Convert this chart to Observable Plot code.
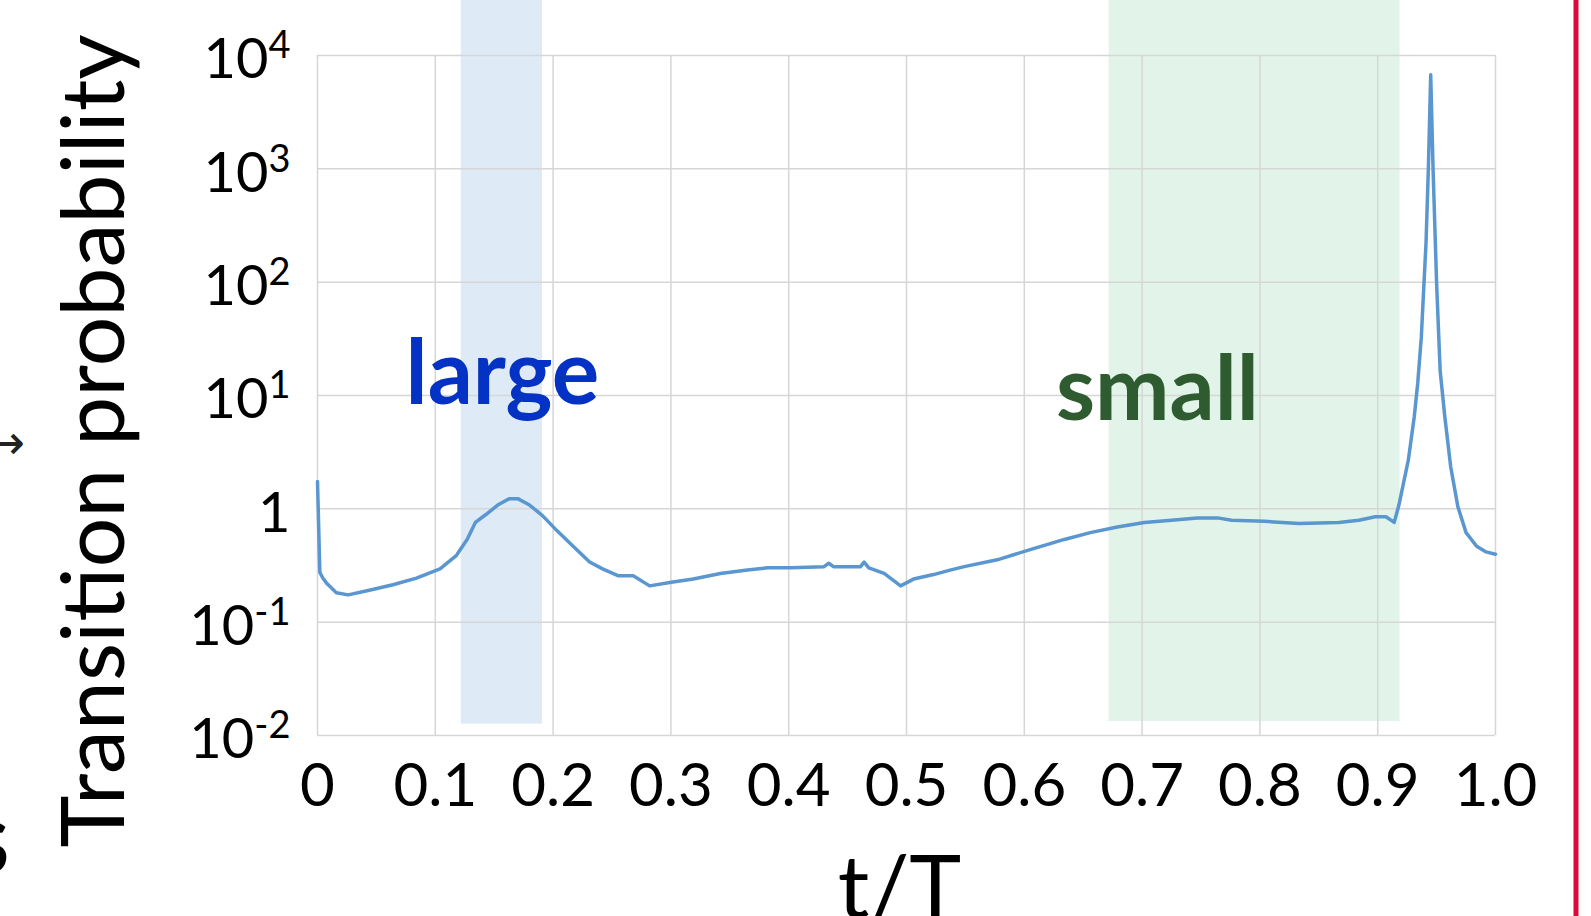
<!DOCTYPE html>
<html>
<head>
<meta charset="utf-8">
<script src="https://cdn.jsdelivr.net/npm/d3@7"></script>
<script src="https://cdn.jsdelivr.net/npm/@observablehq/plot@0.6"></script>
<style>
  html, body { margin: 0; padding: 0; background: #ffffff; overflow: hidden; }
  #wrap { position: relative; width: 1591px; height: 916px; }
  #wrap > svg { position: absolute; left: 0; top: 0; }
  #deco { pointer-events: none; }
</style>
</head>
<body>
<div id="wrap"></div>
<script>
// Transition probability versus normalized time t/T
const tValues = [
  0.000, 0.002, 0.0045, 0.008, 0.016, 0.026, 0.044, 0.064, 0.084, 0.104,
  0.118, 0.127, 0.134, 0.143, 0.153, 0.163, 0.170, 0.180, 0.191, 0.203,
  0.217, 0.231, 0.242, 0.255, 0.268, 0.282, 0.299, 0.319, 0.342, 0.365,
  0.382, 0.402, 0.430, 0.434, 0.438, 0.461, 0.464, 0.468, 0.481, 0.495,
  0.506, 0.523, 0.537, 0.549, 0.577, 0.605, 0.634, 0.656, 0.679, 0.702,
  0.725, 0.747, 0.764, 0.776, 0.804, 0.833, 0.867, 0.884, 0.898, 0.907,
  0.914, 0.918, 0.926, 0.931, 0.934, 0.937, 0.939, 0.941, 0.943, 0.945,
  0.947, 0.950, 0.953, 0.957, 0.962, 0.968, 0.975, 0.984, 0.992, 1.000
];
const probValues = [
  1.74, 0.275, 0.245, 0.219, 0.182, 0.174, 0.191, 0.214, 0.245, 0.295,
  0.389, 0.537, 0.759, 0.891, 1.08, 1.23, 1.23, 1.08, 0.871, 0.646,
  0.468, 0.339, 0.295, 0.257, 0.257, 0.209, 0.224, 0.240, 0.269, 0.288,
  0.302, 0.302, 0.309, 0.331, 0.309, 0.309, 0.339, 0.302, 0.269, 0.209,
  0.240, 0.263, 0.288, 0.309, 0.355, 0.437, 0.537, 0.617, 0.692, 0.759,
  0.794, 0.832, 0.832, 0.794, 0.776, 0.741, 0.759, 0.794, 0.851, 0.851,
  0.759, 1.08, 2.69, 6.46, 12.9, 32.4, 85, 219, 1000, 6760,
  1000, 98, 16.6, 6.46, 2.34, 1.05, 0.617, 0.468, 0.417, 0.398
];

// Highlighted time windows
const bandNames = ["large", "small"];
const bandStart = [0.122, 0.672];
const bandEnd = [0.191, 0.919];
const bandFloor = [0.0126, 0.0133];
const bandCeiling = [31600, 31600];

// Window labels (anchored in data coordinates)
const labelT = [0.157, 0.713];
const labelP = [8.45, 6.1];

// Axis ticks
const xTickValues = [0, 0.1, 0.2, 0.3, 0.4, 0.5, 0.6, 0.7, 0.8, 0.9, 1.0];
const xTickLabels = ["0", "0.1", "0.2", "0.3", "0.4", "0.5", "0.6", "0.7", "0.8", "0.9", "1.0"];
const yTickValues = [0.01, 0.1, 1, 10, 100, 1000, 10000];
const yTickBases = ["10", "10", "1", "10", "10", "10", "10"];
const yTickExponents = ["-2", "-1", "", "1", "2", "3", "4"];

const series = tValues.map((t, i) => ({t, p: probValues[i]}));
const bands = bandNames.map((name, i) => ({
  name, x1: bandStart[i], x2: bandEnd[i], y1: bandFloor[i], y2: bandCeiling[i]
}));
const labels = bandNames.map((name, i) => ({name, t: labelT[i], p: labelP[i]}));

const bandFill = {large: "#deebf7", small: "#e2f4e9"};
const labelFill = {large: "#0432c4", small: "#2f5b30"};
const FONT = "Lato, 'Open Sans', sans-serif";

const chart = Plot.plot({
  width: 1591,
  height: 916,
  marginLeft: 317,
  marginRight: 96,
  marginTop: 55,
  marginBottom: 181,
  style: {fontFamily: FONT, background: "transparent", color: "#000"},
  x: {domain: [0, 1]},
  y: {type: "log", domain: [0.01, 10000]},
  marks: [
    Plot.rect(bands, {
      x1: "x1", x2: "x2", y1: "y1", y2: "y2",
      fill: (d) => bandFill[d.name]
    }),
    Plot.gridX(xTickValues, {stroke: "#d6d6d6", strokeOpacity: 1, strokeWidth: 1.5}),
    Plot.gridY(yTickValues, {stroke: "#d6d6d6", strokeOpacity: 1, strokeWidth: 1.5}),
    Plot.axisX(xTickValues, {
      tickSize: 0,
      tickPadding: 28,
      fontSize: 60,
      fontFamily: FONT,
      fill: "#000",
      label: null,
      tickFormat: (d) => xTickLabels[xTickValues.indexOf(d)]
    }),
    Plot.axisY(yTickValues, {
      tickSize: 0,
      tickPadding: 27,
      fontSize: 56,
      fontFamily: FONT,
      fill: "#000",
      label: null,
      tickFormat: (d) => {
        const i = yTickValues.indexOf(d);
        return yTickExponents[i] ? `${yTickBases[i]}^${yTickExponents[i]}` : yTickBases[i];
      }
    }),
    Plot.line(series, {
      x: "t", y: "p",
      stroke: "#5a96cf",
      strokeWidth: 3.5,
      strokeLinejoin: "round"
    }),
    Plot.text(labels, {
      x: "t", y: "p",
      text: "name",
      fill: (d) => labelFill[d.name],
      fontSize: 89,
      fontWeight: "bold",
      fontFamily: FONT,
      textAnchor: "middle",
      lineAnchor: "bottom"
    }),
    Plot.text(["Transition probability"], {
      frameAnchor: "bottom-left",
      dx: -194,
      dy: 112,
      rotate: -90,
      textAnchor: "start",
      lineAnchor: "bottom",
      fontSize: 88,
      fontFamily: FONT,
      fill: "#000"
    }),
    Plot.text(["t/T"], {
      frameAnchor: "bottom",
      dx: -7,
      dy: 182,
      textAnchor: "middle",
      lineAnchor: "bottom",
      fontSize: 88,
      fontFamily: FONT,
      fill: "#000"
    })
  ]
});

// Superscript exponents on the logarithmic tick labels
d3.select(chart).selectAll('g[aria-label="y-axis tick label"] text').each(function () {
  const s = this.textContent;
  const m = /^(\d+)\^(-?\d+)$/.exec(s);
  this.setAttribute("y", "0.41em");
  if (!m) return;
  this.textContent = "";
  const t = d3.select(this);
  t.append("tspan").text(m[1]);
  t.append("tspan").attr("font-size", 38).attr("dy", -20).text(m[2]);
});

const wrap = document.getElementById("wrap");
wrap.appendChild(chart);

// Page decorations: right-hand divider and clipped glyphs at the left edge
const deco = d3.create("svg")
  .attr("id", "deco")
  .attr("width", 1591)
  .attr("height", 916);
deco.append("rect")
  .attr("x", 1573.5).attr("y", 0)
  .attr("width", 5).attr("height", 916)
  .attr("fill", "#dc0a3c");
deco.append("text")
  .attr("x", 25).attr("y", 459)
  .attr("text-anchor", "end")
  .attr("font-family", "'DejaVu Sans', sans-serif")
  .attr("font-size", 48)
  .attr("fill", "#222")
  .text("→");
deco.append("text")
  .attr("x", 9).attr("y", 873)
  .attr("text-anchor", "end")
  .attr("font-family", FONT)
  .attr("font-weight", "bold")
  .attr("font-size", 70)
  .attr("fill", "#000")
  .text("S");
wrap.appendChild(deco.node());
</script>
</body>
</html>
